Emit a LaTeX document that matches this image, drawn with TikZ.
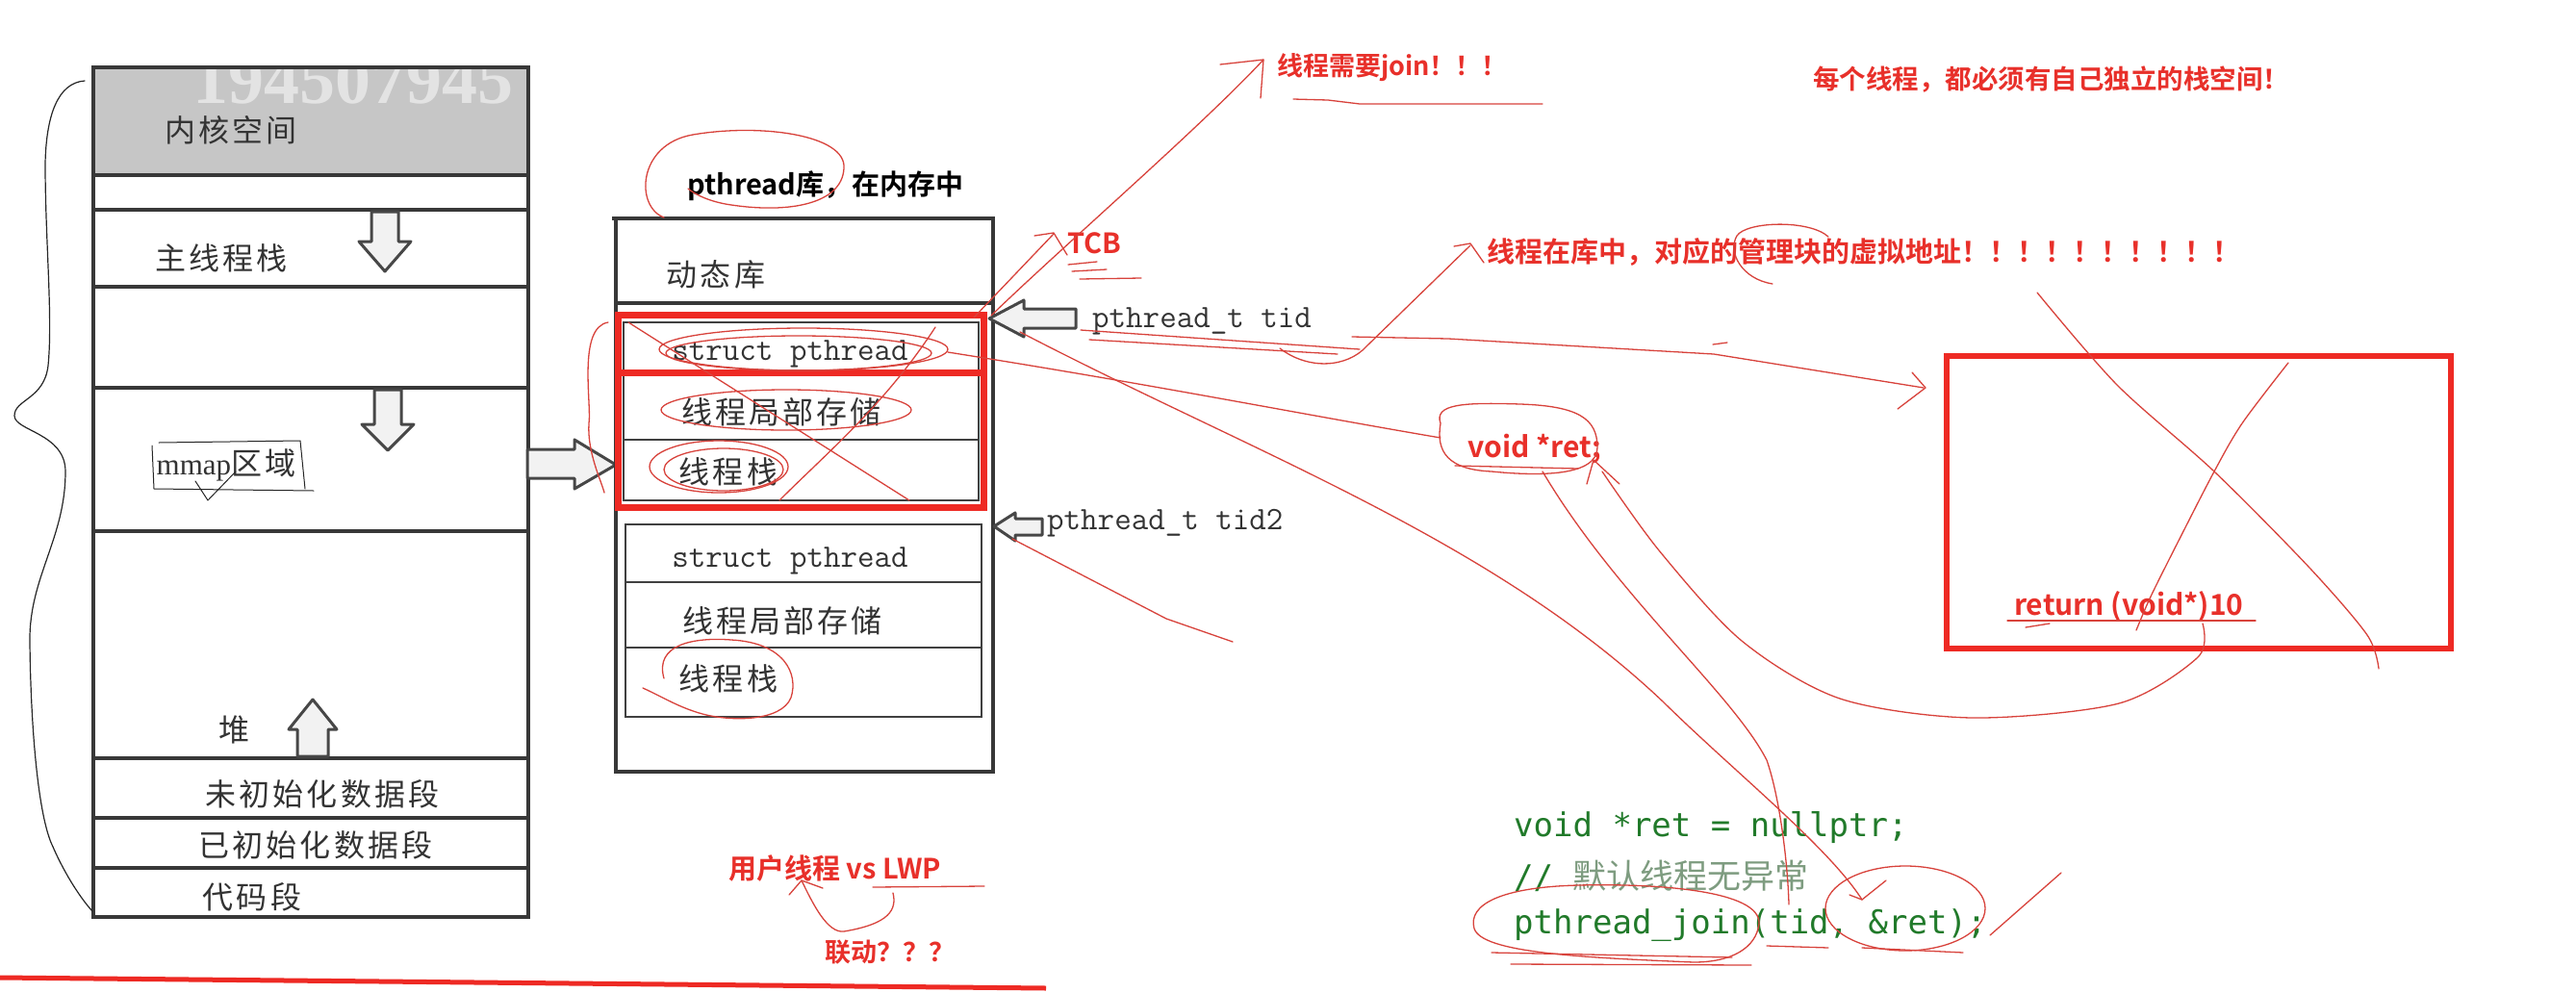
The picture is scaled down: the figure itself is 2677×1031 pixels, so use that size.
\documentclass[tikz,border=0pt]{standalone}
\usepackage{fontspec}
\newfontfamily\cjk{Noto Sans CJK SC}[BoldFont={Noto Sans CJK SC Bold}]
\newfontfamily\cjkw{Noto Sans CJK SC}[LetterSpace=10]
\newfontfamily\codefont{DejaVu Sans Mono}
\newfontfamily\serifl{Liberation Serif}
\newfontfamily\wmfont{Liberation Serif}
\newcommand\myfs[1]{\fontsize{#1}{#1}\selectfont}
\definecolor{notered}{HTML}{E8302A}
\definecolor{boxred}{HTML}{EE2A24}
\definecolor{inkred}{HTML}{D8433C}
\definecolor{codegreen}{HTML}{217A2A}
\definecolor{commentgreen}{HTML}{7E9C80}
\begin{document}
\begin{tikzpicture}[x=1pt,y=-1pt,
  boxline/.style={draw=black!78,line width=3.4pt},
  thinbox/.style={draw=black!75,line width=2.8pt},
  hollow/.style={draw=black!72,line width=3pt,fill=gray!10,line join=round},
  ink/.style={draw=inkred,line width=1.3pt,line cap=round,line join=round},
  pencil/.style={draw=black!85,line width=1.2pt,line cap=round,line join=round},
  redbox/.style={draw=boxred,line width=7pt},
  boxtxt/.style={font=\cjkw\myfs{32},text=black!80,inner sep=0pt},
  monotxt/.style={font=\ttfamily\myfs{34},text=black!80,inner sep=0pt},
  note/.style={font=\cjk\bfseries\myfs{28},text=notered,inner sep=0pt,anchor=west},
  code/.style={font=\codefont\myfs{34},text=codegreen,inner sep=0pt,anchor=west}]
\useasboundingbox (0,0) rectangle (2677,1031);
\fill[white] (0,0) rectangle (2677,1031);

% ---------- left memory layout ----------
\fill[gray!45] (97,70) rectangle (549,182);
\begin{scope}
  \clip (97,70) rectangle (549,182);
  \node[font=\wmfont\bfseries\myfs{74},text=gray!22,anchor=base west,inner sep=0pt] (wmark) at (200,107) {194507945};
\end{scope}
\draw[boxline] (97,70) rectangle (549,953);
\foreach \yy in {182,218,298,403,552,788,850,902} \draw[boxline] (97,\yy) -- (549,\yy);

\draw[hollow] (386,220) -- (386,251) -- (373,251) -- (400,282) -- (427,251) -- (414,251) -- (414,220) -- cycle;
\draw[hollow] (389,405) -- (389,441) -- (376,441) -- (403,468) -- (430,441) -- (417,441) -- (417,405) -- cycle;
\draw[hollow] (325,727) -- (350,758) -- (341,758) -- (341,786) -- (309,786) -- (309,758) -- (300,758) -- cycle;

\node[boxtxt] (kern) at (240,135) {内核空间};
\node[boxtxt] (mstack) at (230,268) {主线程栈};
\node[font=\cjkw\myfs{32},text=black!80,inner sep=0pt] (mmap) at (235,483) {{\serifl\myfs{31}mmap}区域};
\node[boxtxt] (heap) at (243,758) {堆};
\node[boxtxt] (bss) at (335,825) {未初始化数据段};
\node[boxtxt] (data) at (328,878) {已初始化数据段};
\node[boxtxt] (textseg) at (262,932) {代码段};

% brace
\draw[pencil] (88,84) .. controls (60,86) and (48,120) .. (47,170)
  .. controls (47,250) and (55,330) .. (50,380)
  .. controls (46,415) and (15,415) .. (15,432)
  .. controls (15,448) and (68,450) .. (68,490)
  .. controls (68,560) and (30,600) .. (31,667)
  .. controls (32,760) and (40,850) .. (55,880)
  .. controls (68,910) and (85,935) .. (96,947);
% mmap hand box
\draw[pencil,line width=1pt] (165,460) -- (312,458) -- (317,508);
\draw[pencil,line width=1pt] (158,463) -- (160,508) -- (326,510);
\draw[pencil,line width=1pt] (203,500) -- (216,520) -- (245,490);

% arrow to pthread box
\draw[hollow] (548,467) -- (597,467) -- (597,457) -- (640,483) -- (597,508) -- (597,497) -- (548,497) -- cycle;

% ---------- pthread library ----------
\node[font=\cjk\bfseries\myfs{29},text=black,inner sep=0pt] (libtitle) at (858,193) {pthread库，在内存中};
\draw[boxline] (636,227) -- (1032,227) -- (1032,802) -- (640,802) -- (640,227);
\draw[boxline] (640,315) -- (1032,315);
\draw[thinbox] (648,335) rectangle (1017,520);
\draw[thinbox] (648,457) -- (1017,457);
\draw[redbox] (642,327) rectangle (1022,527);
\draw[redbox] (642,387) -- (1022,387);
\draw[thinbox] (650,545) rectangle (1020,745);
\draw[thinbox] (650,605) -- (1020,605);
\draw[thinbox] (650,673) -- (1020,673);

\node[boxtxt] (dyn) at (744,285) {动态库};
\node[monotxt] (sp1) at (821,368) {struct pthread};
\node[boxtxt] (tls1) at (812,428) {线程局部存储};
\node[boxtxt] (tst1) at (757,490) {线程栈};
\node[monotxt] (sp2) at (821,583) {struct pthread};
\node[boxtxt] (tls2) at (813,645) {线程局部存储};
\node[boxtxt] (tst2) at (757,705) {线程栈};

\draw[hollow] (1028,331) -- (1064,312) -- (1064,321) -- (1118,321) -- (1118,341) -- (1064,341) -- (1064,350) -- cycle;
\draw[hollow] (1033,547) -- (1055,533) -- (1055,539) -- (1083,539) -- (1083,556) -- (1055,556) -- (1055,562) -- cycle;
\node[monotxt,anchor=west] (tid) at (1135,334) {pthread\_t tid};
\node[monotxt,anchor=west] (tid2) at (1088,544) {pthread\_t tid2};

% ---------- red notes ----------
\node[note,font=\cjk\bfseries\myfs{27}] (join) at (1327,70) {线程需要join！！！};
\node[note,font=\cjk\bfseries\myfs{27.5}] (each) at (1884,83) {每个线程，都必须有自己独立的栈空间！};
\node[note,font=\cjk\bfseries\myfs{29}] (tcb) at (1109,253) {TCB};
\node[note,font=\cjk\bfseries\myfs{29}] (inlib) at (1545,262) {线程在库中，对应的管理块的虚拟地址！！！！！！！！！！};
\node[note,font=\cjk\bfseries\myfs{30}] (vret) at (1525,467) {void *ret;};
\node[note,font=\cjk\bfseries\myfs{30}] (retv) at (2093,630) {return (void*)10};
\node[note,font=\cjk\bfseries\myfs{29}] (lwp) at (757,902) {用户线程 vs LWP};
\node[note,font=\cjk\bfseries\myfs{27}] (ld) at (857,990) {联动？？？};

\draw[redbox,line width=6pt] (2023,370) rectangle (2547,674);

% ---------- code ----------
\node[code] (c1) at (1573,860) {void *ret = nullptr;};
\node[code] (c2) at (1573,910) {// {\cjk\color{commentgreen}\myfs{35}默认线程无异常}};
\node[code] (c3) at (1573,962) {pthread\_join(tid, \&ret);};

% bottom red line
\draw[draw=boxred,line width=5pt] (0,1016) -- (1087,1027);

% ---------- hand ink ----------
% pthread ellipse
\draw[ink] (690,226) .. controls (660,215) and (662,150) .. (720,140)
  .. controls (790,128) and (880,140) .. (877,175)
  .. controls (875,212) and (820,222) .. (760,213)
  .. controls (738,210) and (722,202) .. (715,196);
% circles in the red box
\draw[ink] (835,363) ellipse [x radius=150,y radius=22];
\draw[ink] (830,367) ellipse [x radius=138,y radius=18];
\draw[ink] (817,426) ellipse [x radius=130,y radius=21];
\draw[ink] (747,485) ellipse [x radius=72,y radius=27];
\draw[ink] (752,488) ellipse [x radius=62,y radius=22];
\draw[ink] (653,335) -- (945,520);
\draw[ink] (972,340) .. controls (920,420) and (860,470) .. (810,520);
\draw[ink] (632,335) .. controls (600,340) and (615,420) .. (612,440) .. controls (610,470) and (625,500) .. (628,512);
\draw[ink] (690,705) .. controls (680,670) and (720,662) .. (760,665)
  .. controls (815,668) and (830,700) .. (822,725)
  .. controls (812,750) and (760,750) .. (730,742)
  .. controls (705,735) and (690,725) .. (668,715);
% TCB arrow and underlines
\draw[ink] (1012,330) -- (1095,243);
\draw[ink] (1075,245) -- (1095,242) -- (1109,265);
\draw[ink] (1110,275) -- (1140,272);
\draw[ink] (1114,282) -- (1150,280);
\draw[ink] (1122,290) -- (1186,289);
% join arrow
\draw[ink] (1030,328) .. controls (1100,260) and (1250,130) .. (1313,62);
\draw[ink] (1268,67) -- (1313,62) -- (1310,102);
\draw[ink] (1344,103) -- (1380,104) -- (1413,108) -- (1603,108);
% tid underline and arrow to note
\draw[ink] (1123,343) -- (1413,363);
\draw[ink] (1132,353) -- (1390,368);
\draw[ink] (1330,362) .. controls (1360,385) and (1400,382) .. (1420,360) -- (1528,255);
\draw[ink] (1511,256) -- (1528,253) -- (1542,273);
\draw[ink] (1842,295) .. controls (1810,290) and (1795,262) .. (1805,245) .. controls (1815,230) and (1880,228) .. (1900,246);
% to big red box
\draw[ink] (1405,350) -- (1505,352) -- (1781,368) -- (1999,403);
\draw[ink] (1987,387) -- (2001,403) -- (1972,425);
\draw[ink] (1780,358) -- (1795,356);
% struct pthread -> void *ret
\draw[ink] (985,366) .. controls (1200,400) and (1350,430) .. (1497,455);
\draw[ink] (1497,440) .. controls (1490,420) and (1520,418) .. (1580,420)
  .. controls (1640,422) and (1660,435) .. (1660,465)
  .. controls (1660,495) and (1600,495) .. (1550,490)
  .. controls (1505,488) and (1492,470) .. (1497,440);
\draw[ink] (1512,484) -- (1640,487);
% tid -> tid in join
\draw[ink] (1060,345) .. controls (1300,470) and (1550,560) .. (1729,730) .. controls (1800,800) and (1900,880) .. (1935,935);
\draw[ink] (1922,930) -- (1935,935) -- (1960,915);
% void *ret down
\draw[ink] (1603,490) .. controls (1680,620) and (1800,720) .. (1836,790) .. controls (1850,830) and (1858,900) .. (1859,940);
% return -> void *ret
\draw[ink] plot[smooth] coordinates {(2289,648) (2284,683) (2202,731) (2049,746) (1912,726) (1810,666) (1724,572) (1665,490)};
\draw[ink] (1649,503) -- (1656,478) -- (1683,503);
% X over big box
\draw[ink] plot[smooth] coordinates {(2117,304) (2200,400) (2301,490) (2400,590) (2460,660) (2472,695)};
\draw[ink] plot[smooth] coordinates {(2378,377) (2330,440) (2301,490) (2265,560) (2235,620) (2220,655)};
\draw[ink] (2086,645) -- (2344,645);
\draw[ink] (2105,652) -- (2130,648);
% tid2 line
\draw[ink] (1052,560) -- (1212,643) -- (1281,667);
% pthread_join circles
\draw[ink] (1828,960) .. controls (1830,925) and (1720,918) .. (1640,920)
  .. controls (1560,922) and (1525,940) .. (1532,965)
  .. controls (1540,990) and (1640,995) .. (1760,1000)
  .. controls (1800,1000) and (1825,985) .. (1828,960);
\draw[ink] (1550,990) -- (1800,995);
\draw[ink] (1570,1002) -- (1820,1003);
\draw[ink] (1980,944) ellipse [x radius=83,y radius=44];
\draw[ink] (1836,983) -- (1900,985);
\draw[ink] (1935,985) -- (2040,990);
\draw[ink] (2068,972) -- (2142,907);
% LWP
\draw[ink] (907,922) -- (1023,921);
\draw[ink] (928,928) .. controls (932,945) and (925,960) .. (877,968) .. controls (860,970) and (845,940) .. (833,915);
\draw[ink] (820,930) -- (833,915) -- (855,923);
\end{tikzpicture}
\end{document}
